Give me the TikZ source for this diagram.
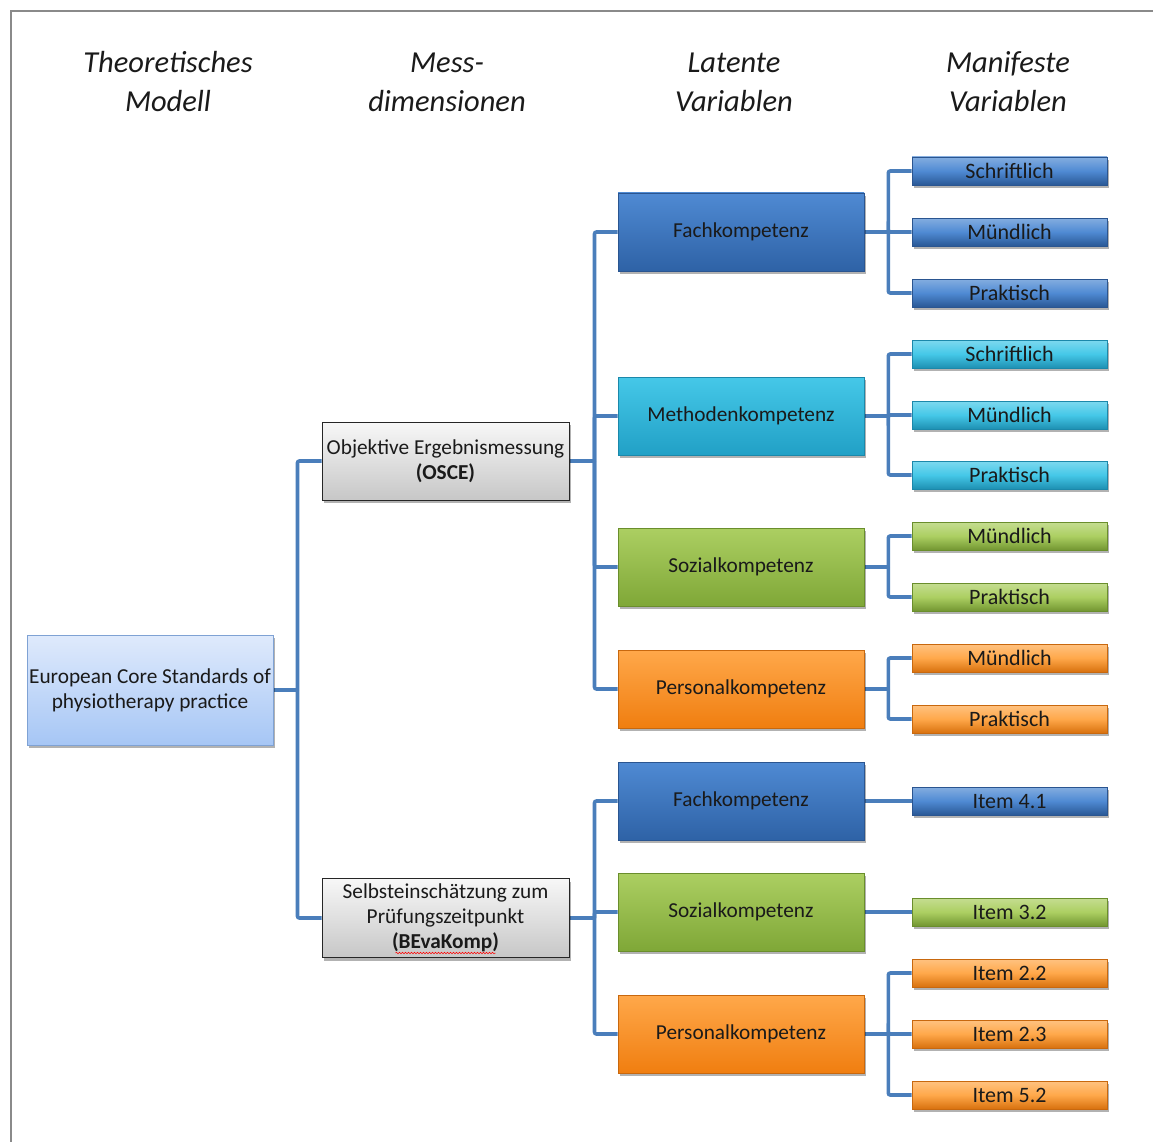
\documentclass[tikz,border=0pt]{standalone}
\usepackage{fontspec}
\setmainfont{Carlito}
\usetikzlibrary{shadows,decorations.pathmorphing,calc,backgrounds}

% colour families: T = top, B = bottom, D = border
\definecolor{bluT}{HTML}{4F8AD3}\definecolor{bluB}{HTML}{2E62A6}\definecolor{bluD}{HTML}{2A5590}
\definecolor{cyaT}{HTML}{45C8E8}\definecolor{cyaB}{HTML}{21A0C6}\definecolor{cyaD}{HTML}{1B88AA}
\definecolor{grnT}{HTML}{ACCF62}\definecolor{grnB}{HTML}{7FA737}\definecolor{grnD}{HTML}{6A8E2C}
\definecolor{orgT}{HTML}{FFA84A}\definecolor{orgB}{HTML}{F07E10}\definecolor{orgD}{HTML}{C8680E}
\definecolor{rootT}{HTML}{DFEAFC}\definecolor{rootB}{HTML}{A6C6F5}\definecolor{rootD}{HTML}{7FA2D4}
\definecolor{linkcol}{HTML}{4A7EBB}
\definecolor{txt}{HTML}{1A1A1A}
\definecolor{frame}{HTML}{8A8A8A}

\tikzset{
  shad/.style={drop shadow={shadow xshift=2pt, shadow yshift=-3pt, opacity=0.3, fill=black}},
  basetext/.style={font=\fontsize{21.3}{25}\selectfont, text=txt, align=center, inner sep=1pt},
  header/.style={font=\fontsize{30.5}{39}\selectfont\itshape, text=txt, align=center},
  root/.style={basetext, shad, draw=rootD, line width=0.9pt, top color=rootT, bottom color=rootB,
    minimum width=246pt, minimum height=110pt},
  dim/.style={basetext, shad, draw=black!85, line width=1pt, top color=black!3, bottom color=black!22,
    minimum width=247pt, minimum height=78pt},
  latent/.style={basetext, shad, draw=#1D, line width=0.6pt, top color=#1T, bottom color=#1B,
    minimum width=246pt, minimum height=78pt},
  manif/.style={basetext, font=\fontsize{22}{25}\selectfont, shad, draw=#1D, line width=0.6pt,
    top color=#1T!70!white, bottom color=#1B!90!black, middle color=#1T,
    minimum width=195pt, minimum height=28pt},
  link/.style={draw=linkcol, line width=3.6pt, rounded corners=2pt}
}

\begin{document}
\begin{tikzpicture}[x=1pt,y=-1pt]
\useasboundingbox (0,0) rectangle (1153,1142);
\draw[frame, line width=1.5pt] (11,1142) -- (11,11) -- (1153,11);

% column headings
\node[header] (h1) at (168,82) {Theoretisches\\Modell};
\node[header] (h2) at (447,82) {Mess-\\dimensionen};
\node[header] (h3) at (734,82) {Latente\\Variablen};
\node[header] (h4) at (1008,82) {Manifeste\\Variablen};

% theoretical model and measurement dimensions
\node[root] (ecs) at (150,690) {European Core Standards of\\physiotherapy practice};
\node[dim] (osce) at (445.5,461) {Objektive Ergebnismessung\\\textbf{(OSCE)}};
\node[dim, minimum height=79pt] (bev) at (445.5,918) {Selbsteinschätzung zum\\Prüfungszeitpunkt\\\textbf{(BEvaKomp)}};
\draw[red, line width=0.5pt, decorate, decoration={snake, amplitude=0.8pt, segment length=3pt}]
  ($(bev.south)+(-50,-5)$) -- ++(100,0);

% latent variables
\node[latent=blu] (fa1) at (741,232) {Fachkompetenz};
\node[latent=cya] (me1) at (741,416) {Methodenkompetenz};
\node[latent=grn] (so1) at (741,567) {Sozialkompetenz};
\node[latent=org] (pe1) at (741,689) {Personalkompetenz};
\node[latent=blu] (fa2) at (741,801) {Fachkompetenz};
\node[latent=grn] (so2) at (741,912) {Sozialkompetenz};
\node[latent=org] (pe2) at (741,1034) {Personalkompetenz};

% manifest variables
\node[manif=blu] (m1) at (1009.5,171) {Schriftlich};
\node[manif=blu] (m2) at (1009.5,232) {Mündlich};
\node[manif=blu] (m3) at (1009.5,293) {Praktisch};
\node[manif=cya] (m4) at (1009.5,354) {Schriftlich};
\node[manif=cya] (m5) at (1009.5,415) {Mündlich};
\node[manif=cya] (m6) at (1009.5,475) {Praktisch};
\node[manif=grn] (m7) at (1009.5,536) {Mündlich};
\node[manif=grn] (m8) at (1009.5,597) {Praktisch};
\node[manif=org] (m9) at (1009.5,658) {Mündlich};
\node[manif=org] (m10) at (1009.5,719) {Praktisch};
\node[manif=blu] (m11) at (1009.5,801) {Item 4.1};
\node[manif=grn] (m12) at (1009.5,912) {Item 3.2};
\node[manif=org] (m13) at (1009.5,973) {Item 2.2};
\node[manif=org] (m14) at (1009.5,1034) {Item 2.3};
\node[manif=org] (m15) at (1009.5,1095) {Item 5.2};

% tree connectors, drawn behind the boxes
\begin{scope}[on background layer]
\draw[link] (ecs.east) -- ++(24,0) coordinate (b0);
\draw[link] (osce.west) -| (b0);
\draw[link] (bev.west) -| (b0);

\draw[link] (osce.east) -- ++(25,0) coordinate (b1);
\foreach \n in {fa1,me1,so1,pe1} \draw[link] (\n.west) -| (b1);

\draw[link] (bev.east) -- ++(25,0) coordinate (b2);
\foreach \n in {fa2,so2,pe2} \draw[link] (\n.west) -| (b2);

\draw[link] (fa1.east) -- ++(24,0) coordinate (c1);
\foreach \n in {m1,m2,m3} \draw[link] (\n.west) -| (c1);
\draw[link] (me1.east) -- ++(24,0) coordinate (c2);
\foreach \n in {m4,m5,m6} \draw[link] (\n.west) -| (c2);
\draw[link] (so1.east) -- ++(24,0) coordinate (c3);
\foreach \n in {m7,m8} \draw[link] (\n.west) -| (c3);
\draw[link] (pe1.east) -- ++(24,0) coordinate (c4);
\foreach \n in {m9,m10} \draw[link] (\n.west) -| (c4);
\draw[link] (fa2.east) -- (m11.west);
\draw[link] (so2.east) -- (m12.west);
\draw[link] (pe2.east) -- ++(24,0) coordinate (c5);
\foreach \n in {m13,m14,m15} \draw[link] (\n.west) -| (c5);
\end{scope}
\end{tikzpicture}
\end{document}
